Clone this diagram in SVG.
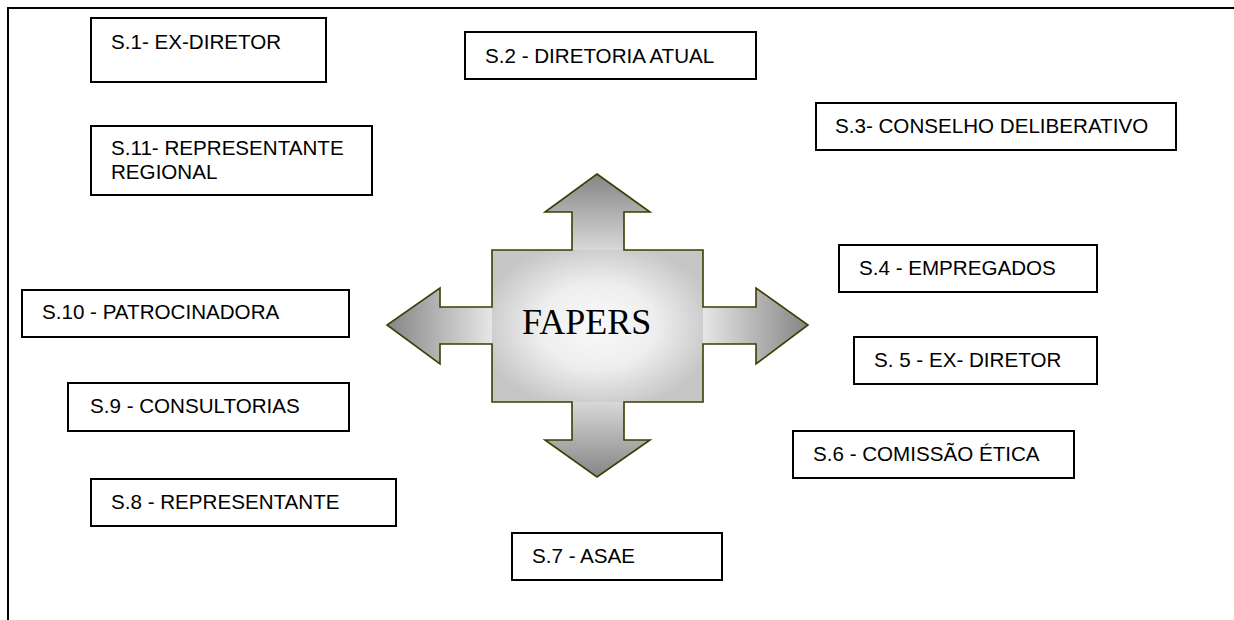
<svg xmlns="http://www.w3.org/2000/svg" width="1234" height="620" viewBox="0 0 1234 620">
<style>
.box rect{fill:#fff;stroke:#000;stroke-width:2}
.box text{font-family:"Liberation Sans",Arial,sans-serif;font-size:20.6px;fill:#000}
.frame{stroke:#000;stroke-width:2;fill:none}
.title{font-family:"Liberation Serif","Times New Roman",serif;font-size:36px;fill:#000}
</style>
<defs>
<linearGradient id="gTop" gradientUnits="userSpaceOnUse" x1="0" y1="174" x2="0" y2="252">
<stop offset="0" stop-color="#858585"/><stop offset="1" stop-color="#dadada"/>
</linearGradient>
<linearGradient id="gBot" gradientUnits="userSpaceOnUse" x1="0" y1="477" x2="0" y2="400">
<stop offset="0" stop-color="#858585"/><stop offset="1" stop-color="#dadada"/>
</linearGradient>
<linearGradient id="gLeft" gradientUnits="userSpaceOnUse" x1="387" y1="0" x2="494" y2="0">
<stop offset="0" stop-color="#858585"/><stop offset="1" stop-color="#e8e8e8"/>
</linearGradient>
<linearGradient id="gRight" gradientUnits="userSpaceOnUse" x1="808" y1="0" x2="701" y2="0">
<stop offset="0" stop-color="#858585"/><stop offset="1" stop-color="#e8e8e8"/>
</linearGradient>
<radialGradient id="gBody" gradientUnits="userSpaceOnUse" cx="597" cy="326" r="118" gradientTransform="translate(597 326) scale(1 0.72) translate(-597 -326)">
<stop offset="0" stop-color="#fafafa"/><stop offset="0.5" stop-color="#eeeeee"/><stop offset="1" stop-color="#c6c6c6"/>
</radialGradient>
</defs>
<path class="frame" d="M8 620 V8 H1234"/>
<g id="fapers">
<polygon fill="url(#gTop)" points="597,174 650,212 624,212 624,252 572,252 572,212 545,212"/>
<polygon fill="url(#gBot)" points="597,477 650,440 624,440 624,400 572,400 572,440 545,440"/>
<polygon fill="url(#gLeft)" points="387,325 440,288 440,307 494,307 494,344 440,344 440,364"/>
<polygon fill="url(#gRight)" points="808,325 756,288 756,307 701,307 701,344 756,344 756,364"/>
<rect x="492" y="250" width="211" height="152" fill="url(#gBody)"/>
<polygon fill="none" stroke="#3d3d00" stroke-width="1.6" stroke-linejoin="miter" points="597,174 650,212 624,212 624,250 703,250 703,307 756,307 756,288 808,325 756,364 756,344 703,344 703,402 624,402 624,440 650,440 597,477 545,440 572,440 572,402 492,402 492,344 440,344 440,364 387,325 440,288 440,307 492,307 492,250 572,250 572,212 545,212"/>
<text class="title" x="522" y="334">FAPERS</text>
</g>
<g id="connectors"/>
<g id="s1" class="box"><rect x="91" y="18" width="235" height="64"/><text x="111" y="49">S.1- EX-DIRETOR</text></g>
<g id="s2" class="box"><rect x="465" y="32" width="291" height="47"/><text x="485" y="63">S.2 - DIRETORIA ATUAL</text></g>
<g id="s3" class="box"><rect x="816" y="103" width="360" height="47"/><text x="835" y="133">S.3- CONSELHO DELIBERATIVO</text></g>
<g id="s4" class="box"><rect x="839" y="245" width="258" height="47"/><text x="859" y="275">S.4 - EMPREGADOS</text></g>
<g id="s5" class="box"><rect x="854" y="337" width="243" height="47"/><text x="874" y="367">S. 5 - EX- DIRETOR</text></g>
<g id="s6" class="box"><rect x="793" y="431" width="281" height="47"/><text x="813" y="461">S.6 - COMISSÃO ÉTICA</text></g>
<g id="s7" class="box"><rect x="512" y="533" width="210" height="47"/><text x="532" y="563">S.7 - ASAE</text></g>
<g id="s8" class="box"><rect x="91" y="479" width="305" height="47"/><text x="111" y="509">S.8 - REPRESENTANTE</text></g>
<g id="s9" class="box"><rect x="68" y="383" width="281" height="48"/><text x="90" y="413">S.9 - CONSULTORIAS</text></g>
<g id="s10" class="box"><rect x="22" y="290" width="327" height="47"/><text x="42" y="319">S.10 - PATROCINADORA</text></g>
<g id="s11" class="box"><rect x="91" y="126" width="281" height="69"/><text x="111" y="155">S.11- REPRESENTANTE</text><text x="111" y="179">REGIONAL</text></g>
</svg>
